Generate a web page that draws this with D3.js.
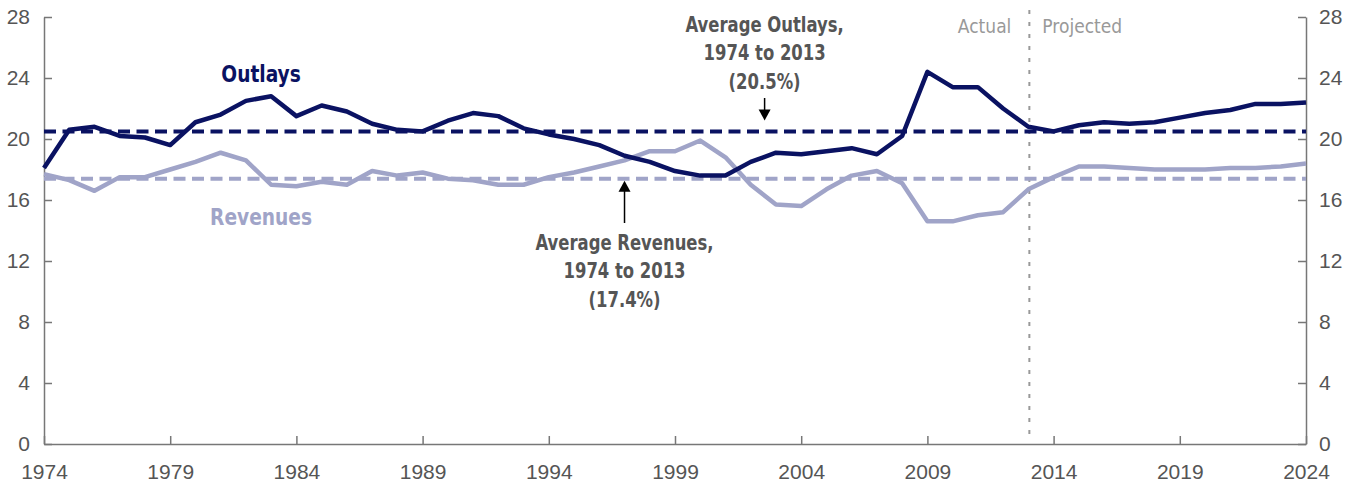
<!DOCTYPE html>
<html>
<head>
<meta charset="utf-8">
<script src="https://cdn.jsdelivr.net/npm/d3@7"></script>
<style>
  body { margin: 0; background: #fff; }
  svg { display: block; font-family: "Liberation Sans Narrow", "DejaVu Sans Condensed", sans-serif; }
  .axis path, .axis line { stroke: #777; stroke-width: 1.5; }
  .axis text { fill: #555; font-size: 21px; }
</style>
</head>
<body>
<div id="chart"></div>
<script>
// Federal outlays and revenues, percent of GDP
const years = d3.range(1974, 2025);
const outlays = [18.1, 20.6, 20.8, 20.2, 20.1, 19.6, 21.1, 21.6, 22.5, 22.8,
  21.5, 22.2, 21.8, 21.0, 20.6, 20.5, 21.2, 21.7, 21.5, 20.7,
  20.3, 20.0, 19.6, 18.9, 18.5, 17.9, 17.6, 17.6, 18.5, 19.1,
  19.0, 19.2, 19.4, 19.0, 20.2, 24.4, 23.4, 23.4, 22.0, 20.8,
  20.5, 20.9, 21.1, 21.0, 21.1, 21.4, 21.7, 21.9, 22.3, 22.3, 22.4];
const revenues = [17.7, 17.3, 16.6, 17.5, 17.5, 18.0, 18.5, 19.1, 18.6, 17.0,
  16.9, 17.2, 17.0, 17.9, 17.6, 17.8, 17.4, 17.3, 17.0, 17.0,
  17.5, 17.8, 18.2, 18.6, 19.2, 19.2, 19.9, 18.8, 17.0, 15.7,
  15.6, 16.7, 17.6, 17.9, 17.1, 14.6, 14.6, 15.0, 15.2, 16.7,
  17.5, 18.2, 18.2, 18.1, 18.0, 18.0, 18.0, 18.1, 18.1, 18.2, 18.4];
const avgOutlays = 20.5;
const avgRevenues = 17.4;
const lastActual = 2013;
const xTicks = [1974, 1979, 1984, 1989, 1994, 1999, 2004, 2009, 2014, 2019, 2024];
const yTicks = [0, 4, 8, 12, 16, 20, 24, 28];

const navy = '#0a1262';
const lilac = '#a0a4c8';

const width = 1353, height = 482;
const margin = { top: 17, right: 47, bottom: 38, left: 44 };

const svg = d3.select('#chart').append('svg')
  .attr('width', width)
  .attr('height', height);

const x = d3.scaleLinear()
  .domain([1974, 2024])
  .range([margin.left, width - margin.right]);

const y = d3.scaleLinear()
  .domain([0, 28])
  .range([height - margin.bottom, margin.top]);

// axes
svg.append('g')
  .attr('class', 'axis')
  .attr('transform', `translate(0,${y(0)})`)
  .call(d3.axisBottom(x).tickValues(xTicks).tickFormat(d3.format('d'))
    .tickSizeInner(-8).tickSizeOuter(0).tickPadding(20));

svg.append('g')
  .attr('class', 'axis')
  .attr('transform', `translate(${x(1974)},0)`)
  .call(d3.axisLeft(y).tickValues(yTicks).tickSizeInner(-8).tickSizeOuter(0).tickPadding(14));

svg.append('g')
  .attr('class', 'axis')
  .attr('transform', `translate(${x(2024)},0)`)
  .call(d3.axisRight(y).tickValues(yTicks).tickSizeInner(-8).tickSizeOuter(0).tickPadding(13));

// actual / projected divider
svg.append('line')
  .attr('x1', x(lastActual) + 1).attr('x2', x(lastActual) + 1)
  .attr('y1', 10).attr('y2', y(0) - 8)
  .attr('stroke', '#999')
  .attr('stroke-width', 2)
  .attr('stroke-dasharray', '4,8');

svg.append('text')
  .attr('x', x(lastActual) - 17).attr('y', 33)
  .attr('text-anchor', 'end')
  .attr('fill', '#999').attr('font-size', 19)
  .text('Actual');

svg.append('text')
  .attr('x', x(lastActual) + 14).attr('y', 33)
  .attr('fill', '#999').attr('font-size', 19)
  .text('Projected');

// average lines
[[avgRevenues, lilac], [avgOutlays, navy]].forEach(([v, c]) => {
  svg.append('line')
    .attr('x1', x(1974)).attr('x2', x(2024))
    .attr('y1', y(v)).attr('y2', y(v))
    .attr('stroke', c)
    .attr('stroke-width', 4)
    .attr('stroke-dasharray', '12,6.5');
});

const line = d3.line()
  .x((d, i) => x(years[i]))
  .y(d => y(d));

svg.append('path')
  .datum(revenues)
  .attr('fill', 'none')
  .attr('stroke', lilac)
  .attr('stroke-width', 4.5)
  .attr('stroke-linejoin', 'round')
  .attr('d', line);

svg.append('path')
  .datum(outlays)
  .attr('fill', 'none')
  .attr('stroke', navy)
  .attr('stroke-width', 4.5)
  .attr('stroke-linejoin', 'round')
  .attr('d', line);

// condensed bold text: the chart's face is narrower than what we have
const narrow = (cx, sx) => svg.append('g')
  .attr('transform', `translate(${cx},0) scale(${sx},1)`);

// series labels
narrow(x(1982.6), 0.9).append('text')
  .attr('y', 82)
  .attr('text-anchor', 'middle')
  .attr('font-weight', 'bold').attr('font-size', 23)
  .attr('fill', navy)
  .text('Outlays');

narrow(x(1982.6), 0.9).append('text')
  .attr('y', 225)
  .attr('text-anchor', 'middle')
  .attr('font-weight', 'bold').attr('font-size', 23)
  .attr('fill', lilac)
  .text('Revenues');

// annotations
const note = (cx, baseline, lines) => {
  const t = narrow(cx, 0.87).append('text')
    .attr('text-anchor', 'middle')
    .attr('font-weight', 'bold').attr('font-size', 21)
    .attr('fill', '#555');
  lines.forEach((s, i) => {
    t.append('tspan').attr('x', 0).attr('y', baseline + i * 28.5).text(s);
  });
};

const arrow = (cx, from, tip) => {
  const dir = tip > from ? 1 : -1;
  svg.append('line')
    .attr('x1', cx).attr('x2', cx)
    .attr('y1', from).attr('y2', tip - dir * 10)
    .attr('stroke', '#000').attr('stroke-width', 1.5);
  svg.append('path')
    .attr('d', `M${cx - 6},${tip - dir * 11}L${cx + 6},${tip - dir * 11}L${cx},${tip}Z`)
    .attr('fill', '#000');
};

const ox = x(2002.55);
note(ox, 32, ['Average Outlays,', '1974 to 2013', '(20.5%)']);
arrow(ox, 98, y(avgOutlays) - 11);

const rx = x(1997.0);
note(rx, 250, ['Average Revenues,', '1974 to 2013', '(17.4%)']);
arrow(rx, 223, y(avgRevenues) + 2);
</script>
</body>
</html>
